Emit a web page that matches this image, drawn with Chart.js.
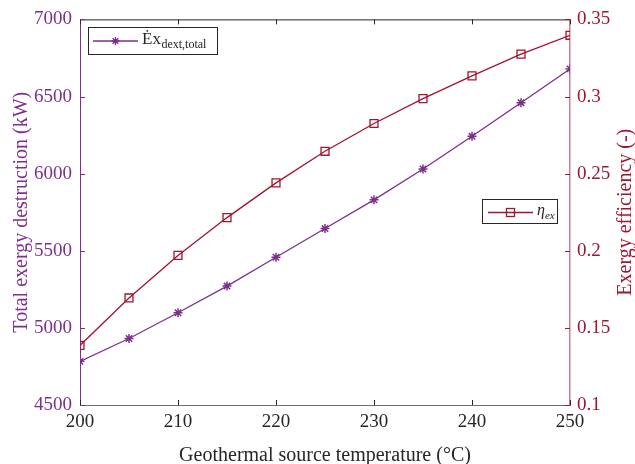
<!DOCTYPE html>
<html>
<head>
<meta charset="utf-8">
<script src="https://cdn.jsdelivr.net/npm/chart.js@4/dist/chart.umd.min.js"></script>
<style>
  html, body { margin: 0; padding: 0; background: #ffffff; }
  #wrap { width: 635px; height: 464px; }
</style>
</head>
<body>
<div id="wrap"><canvas id="c" width="635" height="464"></canvas></div>
<script>
// Geothermal source temperature (°C)
const temperatures = [200, 205, 210, 215, 220, 225, 230, 235, 240, 245, 250];
// Total exergy destruction (kW)
const exergyDestruction = [4783, 4931, 5098, 5271, 5458, 5644, 5830, 6030, 6242, 6460, 6679];
// Exergy efficiency (-)
const exergyEfficiency = [0.1386, 0.1694, 0.197, 0.2215, 0.244, 0.2645, 0.2825, 0.2986, 0.3134, 0.3275, 0.3397];

const xTicks = [200, 210, 220, 230, 240, 250];
const leftTicks = [4500, 5000, 5500, 6000, 6500, 7000];
const rightTicks = [0.1, 0.15, 0.2, 0.25, 0.3, 0.35];

const PURPLE = '#7E2F8E';
const RED = '#A2142F';
const DARK = '#262626';
const SERIF = '"Liberation Serif", "Times New Roman", serif';

// Inward tick marks, top frame line, right axis title and the two legend boxes
const frameAndLegends = {
  id: 'frameAndLegends',
  afterDraw(chart) {
    const ctx = chart.ctx;
    const a = chart.chartArea;
    const xs = chart.scales.x, yl = chart.scales.yL, yr = chart.scales.yR;
    ctx.save();
    ctx.lineWidth = 1;
    // top frame
    ctx.strokeStyle = DARK;
    ctx.beginPath();
    ctx.moveTo(a.left, a.top + 0.5);
    ctx.lineTo(a.right, a.top + 0.5);
    ctx.stroke();
    // x ticks (bottom and top, pointing in)
    ctx.beginPath();
    xTicks.forEach(v => {
      const px = Math.round(xs.getPixelForValue(v)) + 0.5;
      ctx.moveTo(px, a.bottom); ctx.lineTo(px, a.bottom - 5);
      ctx.moveTo(px, a.top); ctx.lineTo(px, a.top + 5);
    });
    ctx.stroke();
    // left ticks
    ctx.strokeStyle = PURPLE;
    ctx.beginPath();
    leftTicks.forEach(v => {
      const py = Math.round(yl.getPixelForValue(v)) + 0.5;
      ctx.moveTo(a.left, py); ctx.lineTo(a.left + 5, py);
    });
    ctx.stroke();
    // right ticks
    ctx.strokeStyle = RED;
    ctx.beginPath();
    rightTicks.forEach(v => {
      const py = Math.round(yr.getPixelForValue(v)) + 0.5;
      ctx.moveTo(a.right, py); ctx.lineTo(a.right - 5, py);
    });
    ctx.stroke();

    // right axis title, reading bottom to top
    ctx.save();
    ctx.translate(626, (a.top + a.bottom) / 2);
    ctx.rotate(-Math.PI / 2);
    ctx.fillStyle = RED;
    ctx.font = '20px ' + SERIF;
    ctx.textAlign = 'center';
    ctx.textBaseline = 'middle';
    ctx.fillText('Exergy efficiency (-)', 0, 0);
    ctx.restore();

    // legend for exergy destruction
    ctx.fillStyle = '#ffffff';
    ctx.strokeStyle = DARK;
    ctx.lineWidth = 1;
    ctx.fillRect(88.5, 27.5, 129, 27);
    ctx.strokeRect(88.5, 27.5, 129, 27);
    ctx.strokeStyle = PURPLE;
    ctx.lineWidth = 1.3;
    ctx.beginPath(); ctx.moveTo(93, 41); ctx.lineTo(138, 41); ctx.stroke();
    drawStar(ctx, 115.5, 41, 4);
    ctx.fillStyle = DARK;
    ctx.textBaseline = 'alphabetic';
    ctx.textAlign = 'left';
    ctx.font = '17px ' + SERIF;
    ctx.fillText('Ėx', 142, 44);
    const w = ctx.measureText('Ėx').width;
    ctx.font = '12px ' + SERIF;
    ctx.fillText('dext,total', 142 + w + 0.5, 48);

    // legend for exergy efficiency
    ctx.fillStyle = '#ffffff';
    ctx.strokeStyle = DARK;
    ctx.lineWidth = 1;
    ctx.fillRect(482.5, 199.5, 75, 24);
    ctx.strokeRect(482.5, 199.5, 75, 24);
    ctx.strokeStyle = RED;
    ctx.lineWidth = 1.3;
    ctx.beginPath(); ctx.moveTo(488, 212.5); ctx.lineTo(533, 212.5); ctx.stroke();
    ctx.strokeRect(506.5, 208.5, 8, 8);
    ctx.fillStyle = DARK;
    ctx.font = 'italic 16px ' + SERIF;
    ctx.fillText('η', 537, 215);
    const we = ctx.measureText('η').width;
    ctx.font = 'italic 11px ' + SERIF;
    ctx.fillText('ex', 537 + we, 219);
    ctx.restore();
  }
};

function drawStar(ctx, x, y, r) {
  ctx.beginPath();
  for (let k = 0; k < 4; k++) {
    const t = k * Math.PI / 4;
    ctx.moveTo(x - r * Math.cos(t), y - r * Math.sin(t));
    ctx.lineTo(x + r * Math.cos(t), y + r * Math.sin(t));
  }
  ctx.stroke();
}

new Chart(document.getElementById('c'), {
  type: 'line',
  data: {
    labels: temperatures,
    datasets: [
      {
        label: 'Ėx dext,total',
        data: temperatures.map((t, i) => ({ x: t, y: exergyDestruction[i] })),
        yAxisID: 'yL',
        borderColor: PURPLE,
        backgroundColor: PURPLE,
        borderWidth: 1.3,
        pointStyle: 'star',
        pointRadius: 4.5,
        pointBorderWidth: 1.5,
        pointBorderColor: PURPLE,
        pointBackgroundColor: 'rgba(0,0,0,0)',
        tension: 0
      },
      {
        label: 'η ex',
        data: temperatures.map((t, i) => ({ x: t, y: exergyEfficiency[i] })),
        yAxisID: 'yR',
        borderColor: RED,
        backgroundColor: RED,
        borderWidth: 1.3,
        pointStyle: 'rect',
        pointRadius: 5.6,
        pointBorderWidth: 1.3,
        pointBorderColor: RED,
        pointBackgroundColor: 'rgba(0,0,0,0)',
        tension: 0
      }
    ]
  },
  options: {
    responsive: false,
    animation: false,
    devicePixelRatio: 1,
    layout: { padding: { top: 15, left: 0, right: 0, bottom: 0 } },
    plugins: { legend: { display: false }, tooltip: { enabled: false } },
    scales: {
      x: {
        type: 'linear',
        position: 'bottom',
        min: 200, max: 250,
        afterBuildTicks: s => { s.ticks = xTicks.map(v => ({ value: v })); },
        afterFit: s => { s.height = 59; },
        grid: { display: false, drawTicks: false },
        border: { display: true, color: '#6e6e6e', width: 1 },
        ticks: { color: DARK, font: { family: SERIF, size: 19 }, padding: 6, maxRotation: 0,
          callback: v => String(v) },
        title: {
          display: true, text: 'Geothermal source temperature (°C)', color: DARK,
          font: { family: SERIF, size: 20, lineHeight: 1 }, padding: { top: 0, bottom: -2 }
        }
      },
      yL: {
        type: 'linear',
        position: 'left',
        min: 4500, max: 7000,
        afterBuildTicks: s => { s.ticks = leftTicks.map(v => ({ value: v })); },
        afterFit: s => { s.width = 80; },
        grid: { display: false, drawTicks: false },
        border: { display: true, color: PURPLE, width: 1 },
        ticks: { color: PURPLE, font: { family: SERIF, size: 19 }, padding: 8,
          callback: v => String(v) },
        title: {
          display: true, text: 'Total exergy destruction (kW)', color: PURPLE,
          font: { family: SERIF, size: 20, lineHeight: 1 }, padding: { top: 12, bottom: 0 }
        }
      },
      yR: {
        type: 'linear',
        position: 'right',
        min: 0.1, max: 0.35,
        afterBuildTicks: s => { s.ticks = rightTicks.map(v => ({ value: v })); },
        afterFit: s => { s.width = 65; },
        grid: { display: false, drawTicks: false },
        border: { display: true, color: 'rgba(162,20,47,0.55)', width: 1.5 },
        ticks: {
          color: RED, font: { family: SERIF, size: 19 }, padding: 7,
          callback: v => String(Math.round(v * 100) / 100)
        },
        title: { display: false }
      }
    }
  },
  plugins: [frameAndLegends]
});
</script>
</body>
</html>
